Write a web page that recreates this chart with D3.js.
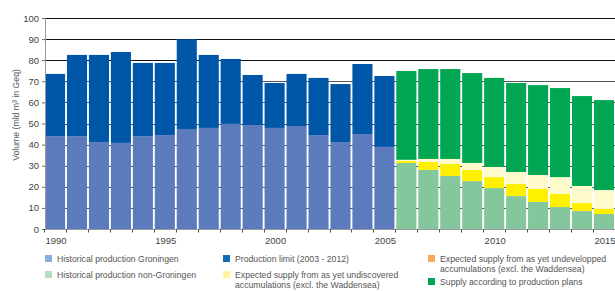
<!DOCTYPE html>
<html><head><meta charset="utf-8">
<script src="https://cdn.jsdelivr.net/npm/d3@7"></script>
<style>
html,body{margin:0;padding:0;background:#fff;}
svg{display:block;font-family:"Liberation Sans",Arial,sans-serif;}
</style></head>
<body><svg id="chart" width="615" height="291"></svg>
<script>
const years = [1990,1991,1992,1993,1994,1995,1996,1997,1998,1999,2000,2001,2002,2003,2004,2005,2006,2007,2008,2009,2010,2011,2012,2013,2014,2015];
const histYears = [1990,1991,1992,1993,1994,1995,1996,1997,1998,1999,2000,2001,2002,2003,2004,2005];
const histGroningen = [44,44,41.2,40.8,44,44.5,47.4,47.9,49.8,49.3,47.9,48.8,44.5,41.2,45,38.9];
const productionLimit = [29.5,38.5,41.3,43.1,34.7,34.2,42.5,34.6,30.8,23.7,21.3,24.7,27.1,27.5,33.2,33.6];
const futureYears = [2006,2007,2008,2009,2010,2011,2012,2013,2014,2015];
const nonGroningen = [31.3,28,25.1,22.7,19.4,15.6,12.8,10.4,8.5,7.1];
const undeveloped = [0.9,3.8,5.7,5.3,5.2,5.7,6.2,6.2,3.8,2.4];
const undiscovered = [0.6,1.4,2.4,3.3,4.8,5.7,6.6,8,8.1,9];
const productionPlans = [42.1,42.6,42.6,42.6,42.2,42.2,42.6,42.2,42.6,42.6];
const yTicks = [0,10,20,30,40,50,60,70,80,90,100];
const xTickLabels = [1990,1995,2000,2005,2010,2015];

const keys = ["groningen","limit","nonGroningen","undeveloped","undiscovered","plans"];
const barColors = {groningen:"#5b7bbd",limit:"#0057a8",nonGroningen:"#85c79c",undeveloped:"#fff000",undiscovered:"#fffacb",plans:"#00a651"};

const table = years.map(y => {
  const r = {year:y};
  keys.forEach(k => r[k] = 0);
  const hi = histYears.indexOf(y);
  if (hi >= 0) { r.groningen = histGroningen[hi]; r.limit = productionLimit[hi]; }
  const fi = futureYears.indexOf(y);
  if (fi >= 0) { r.nonGroningen = nonGroningen[fi]; r.undeveloped = undeveloped[fi]; r.undiscovered = undiscovered[fi]; r.plans = productionPlans[fi]; }
  return r;
});

const svg = d3.select("#chart");
const x = d3.scaleBand().domain(years).range([45,614]).paddingInner(0.085).paddingOuter(0);
const y = d3.scaleLinear().domain([0,100]).range([229,18]);

// gridlines
svg.append("g").selectAll("line").data(yTicks.filter(d=>d>0)).join("line")
  .attr("x1",45).attr("x2",615).attr("y1",d=>Math.round(y(d))+0.5).attr("y2",d=>Math.round(y(d))+0.5)
  .attr("stroke",d=>d>=80?"#111":"#555").attr("stroke-width",1);

const stacked = d3.stack().keys(keys)(table);
svg.append("g").selectAll("g").data(stacked).join("g")
  .attr("fill",d=>barColors[d.key])
  .selectAll("rect").data(d=>d.filter(s=>s[1]-s[0]>0)).join("rect")
  .attr("x",d=>x(d.data.year)).attr("width",x.bandwidth())
  .attr("y",d=>y(d[1])).attr("height",d=>y(d[0])-y(d[1]));

// y axis
const yAxis = svg.append("g").attr("transform","translate(45,0)")
  .call(d3.axisLeft(y).tickValues(yTicks).tickSize(3).tickPadding(3));
yAxis.select(".domain").attr("stroke","#999");
yAxis.selectAll(".tick line").attr("stroke","#666");
yAxis.selectAll("text").attr("font-size","9.5px").attr("fill","#444").attr("font-family","Liberation Sans, Arial, sans-serif");

// x axis
const xg = svg.append("g");
xg.append("line").attr("x1",45).attr("x2",615).attr("y1",229.5).attr("y2",229.5).attr("stroke","#999");
const step = x.step();
xg.selectAll("line.tk").data(years).join("line").attr("class","tk")
  .attr("x1",d=>Math.round(x(d)-(step-x.bandwidth())/2)+0.5).attr("x2",d=>Math.round(x(d)-(step-x.bandwidth())/2)+0.5)
  .attr("y1",229).attr("y2",232.5).attr("stroke","#555");
xg.selectAll("text").data(xTickLabels).join("text")
  .attr("x",d=>x(d)+x.bandwidth()/2+1).attr("y",243.5).attr("text-anchor","middle")
  .attr("font-size","9.5px").attr("fill","#444").text(d=>d);

// y label
svg.append("text").attr("transform","translate(19,115) rotate(-90)").attr("text-anchor","middle")
  .attr("font-size","8.7px").attr("fill","#555").text("Volume (mld m³ in Geq)");

// legend
const legendItems = [
  {c:"#8aaedc", x:45, y:255, lines:["Historical production Groningen"]},
  {c:"#b3dec0", x:45, y:271, lines:["Historical production non-Groningen"]},
  {c:"#0b6db6", x:223, y:255, lines:["Production limit (2003 - 2012)"]},
  {c:"#fff59e", x:223, y:271, lines:["Expected supply from as yet undiscovered","accumulations (excl. the Waddensea)"]},
  {c:"#f7a955", x:428, y:255, lines:["Expected supply from as yet undevelopped","accumulations (excl. the Waddensea)"]},
  {c:"#00a651", x:428, y:278, lines:["Supply according to production plans"]}
];
const lg = svg.append("g").selectAll("g").data(legendItems).join("g");
lg.append("rect").attr("x",d=>d.x).attr("y",d=>d.y).attr("width",7).attr("height",7).attr("fill",d=>d.c);
lg.each(function(d){
  const g = d3.select(this);
  d.lines.forEach((t,i)=>{
    g.append("text").attr("x",d.x+12).attr("y",d.y+6.8+i*10.5).attr("font-size","8.7px").attr("fill","#555").text(t);
  });
});
</script></body></html>
